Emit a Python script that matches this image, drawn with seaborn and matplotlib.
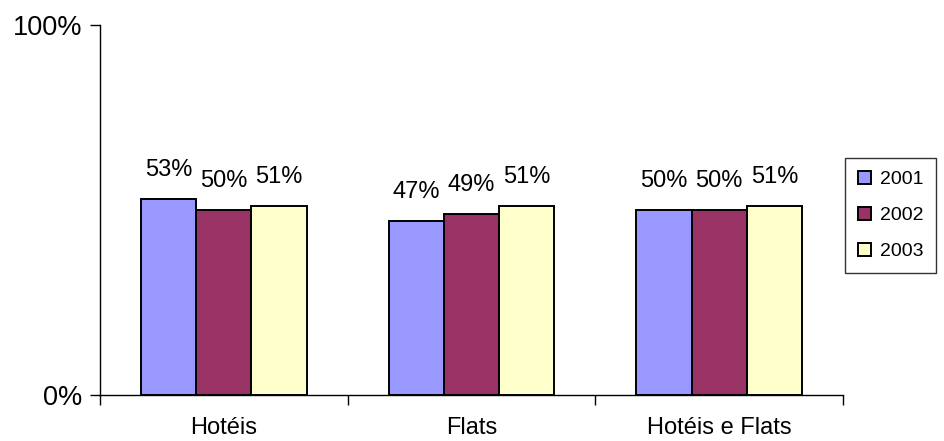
import matplotlib
matplotlib.use("Agg")
import matplotlib.pyplot as plt
import seaborn as sns
import pandas as pd
from matplotlib.ticker import FixedLocator, FuncFormatter

categories = ["Hotéis", "Flats", "Hotéis e Flats"]
years = ["2001", "2002", "2003"]
values_2001 = [53, 47, 50]
values_2002 = [50, 49, 50]
values_2003 = [51, 51, 51]
colors = ["#9999FF", "#993366", "#FFFFCC"]

rows = []
for year, vals in zip(years, [values_2001, values_2002, values_2003]):
    for cat, v in zip(categories, vals):
        rows.append({"categoria": cat, "ano": year, "valor": v})
df = pd.DataFrame(rows)

sns.set_theme(style="white")
plt.rcParams["font.family"] = ["Liberation Sans", "DejaVu Sans"]
plt.rcParams["text.color"] = "black"
plt.rcParams["xtick.color"] = "black"
plt.rcParams["ytick.color"] = "black"
plt.rcParams["xtick.labelcolor"] = "black"
plt.rcParams["ytick.labelcolor"] = "black"

fig = plt.figure(figsize=(9.44, 4.41), dpi=100)
ax = fig.add_axes([100 / 944, 46 / 441, 743 / 944, 370 / 441])

sns.barplot(data=df, x="categoria", y="valor", hue="ano", order=categories,
            hue_order=years, palette=colors, edgecolor="black", linewidth=1.4,
            width=0.67, saturation=1, ax=ax, legend=True)

for container in ax.containers:
    ax.bar_label(container, labels=[f"{v:.0f}%" for v in container.datavalues],
                 padding=13, fontsize=17, color="black")

ax.set_ylim(0, 100)
ax.set_xlim(-0.5, 2.5)
ax.set_yticks([0, 100])
ax.yaxis.set_major_formatter(FuncFormatter(lambda v, p: f"{v:.0f}%"))
ax.tick_params(axis="y", direction="out", length=7, width=1, color="black",
               labelcolor="black", labelsize=19.5, pad=6, left=True)
ax.tick_params(axis="x", which="major", length=0, labelsize=17, pad=16,
               labelcolor="black")
ax.xaxis.set_minor_locator(FixedLocator([-0.5, 0.5, 1.5, 2.5]))
ax.tick_params(axis="x", which="minor", direction="out", length=7, width=1,
               color="black", bottom=True)
ax.set_xlabel("")
ax.set_ylabel("")

for side in ["top", "right"]:
    ax.spines[side].set_visible(False)
for side in ["left", "bottom"]:
    ax.spines[side].set_color("black")
    ax.spines[side].set_linewidth(1)

handles, labels = ax.get_legend_handles_labels()
ax.legend_.remove()
leg = fig.legend(handles, labels, loc="upper left",
                 bbox_to_anchor=(845 / 944, 1 - 158 / 441),
                 frameon=True, fancybox=False, edgecolor="black",
                 fontsize=14, handlelength=0.7, handleheight=0.7,
                 handletextpad=0.45, labelspacing=0.95, borderpad=0.65,
                 borderaxespad=0)
leg.get_frame().set_linewidth(1)
for t in leg.get_texts():
    t.set_color("black")

fig.savefig("out.png", dpi=100)
